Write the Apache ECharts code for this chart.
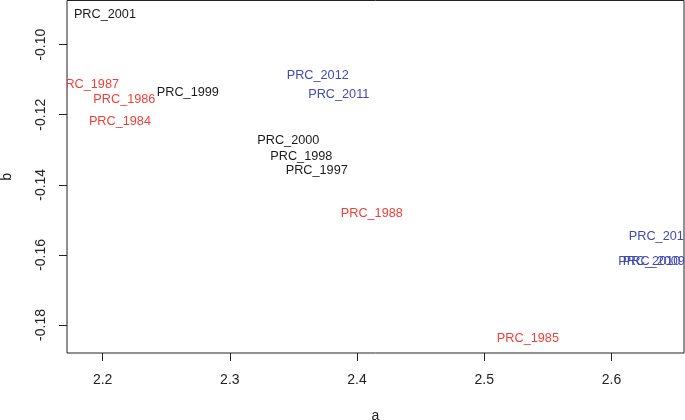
<!DOCTYPE html>
<html>
<head>
<meta charset="utf-8">
<script src="https://cdn.jsdelivr.net/npm/echarts@6/dist/echarts.min.js"></script>
<style>html,body{margin:0;padding:0;background:#fff}#c{width:685px;height:420px}</style>
</head>
<body>
<div id="c"></div>
<script>
var names = ['PRC_1984','PRC_1985','PRC_1986','PRC_1987','PRC_1988','PRC_1997','PRC_1998','PRC_1999','PRC_2000','PRC_2001','PRC_2009','PRC_2010','PRC_2011','PRC_2012','PRC_2013'];
var aVals = [2.2136, 2.5343, 2.2171, 2.1885, 2.4116, 2.3683, 2.3562, 2.2670, 2.3460, 2.2018, 2.6333, 2.6297, 2.3856, 2.3691, 2.6380];
var bVals = [-0.1220, -0.1840, -0.1157, -0.1114, -0.1483, -0.1358, -0.1318, -0.1137, -0.1273, -0.0914, -0.1619, -0.1619, -0.1142, -0.1087, -0.1548];
var groups = [0,0,0,0,0,1,1,1,1,1,2,2,2,2,2];
var groupColors = ['#f23f35', '#1a1a1a', '#4049b5'];
var xTicks = [2.2, 2.3, 2.4, 2.5, 2.6];
var yTicks = [-0.18, -0.16, -0.14, -0.12, -0.10];

var data = names.map(function (n, i) { return [aVals[i], bVals[i], n, groups[i]]; });

var chart = echarts.init(document.getElementById('c'), null, {renderer: 'canvas'});
var font = 'Liberation Sans, Arial, sans-serif';
chart.setOption({
  animation: false,
  grid: {left: 67, right: 1, top: 0.5, bottom: 67, show: true, borderColor: '#222', borderWidth: 1, backgroundColor: 'transparent', containLabel: false, outerBoundsMode: 'none'},
  xAxis: {
    type: 'value', min: 2.172, max: 2.657,
    name: 'a', nameLocation: 'middle', nameGap: 56,
    nameTextStyle: {fontFamily: font, fontSize: 14, color: '#222'},
    axisLine: {show: false},
    splitLine: {show: false},
    axisTick: {show: true, length: 8, lineStyle: {color: '#222'}, customValues: xTicks},
    axisLabel: {fontFamily: font, fontSize: 14, color: '#222', margin: 20, customValues: xTicks,
      formatter: function (v) { return v.toFixed(1); }}
  },
  yAxis: {
    type: 'value', min: -0.188, max: -0.0874,
    name: 'b', nameLocation: 'middle', nameGap: 53, nameRotate: 90,
    nameTextStyle: {fontFamily: font, fontSize: 14, color: '#222'},
    axisLine: {show: false},
    splitLine: {show: false},
    axisTick: {show: true, length: 8, lineStyle: {color: '#222'}, customValues: yTicks},
    axisLabel: {fontFamily: font, fontSize: 14, color: '#222', margin: 19, rotate: 90, customValues: yTicks,
      formatter: function (v) { return v.toFixed(2); }}
  },
  series: [{
    type: 'custom',
    clip: true,
    data: data,
    encode: {x: 0, y: 1},
    renderItem: function (params, api) {
      var p = api.coord([api.value(0), api.value(1)]);
      var idx = params.dataIndex;
      return {
        type: 'text',
        style: {
          text: names[idx],
          x: p[0], y: p[1],
          fill: groupColors[groups[idx]],
          font: '12.7px ' + font,
          align: 'center',
          verticalAlign: 'middle'
        }
      };
    }
  }]
});
</script>
</body>
</html>
